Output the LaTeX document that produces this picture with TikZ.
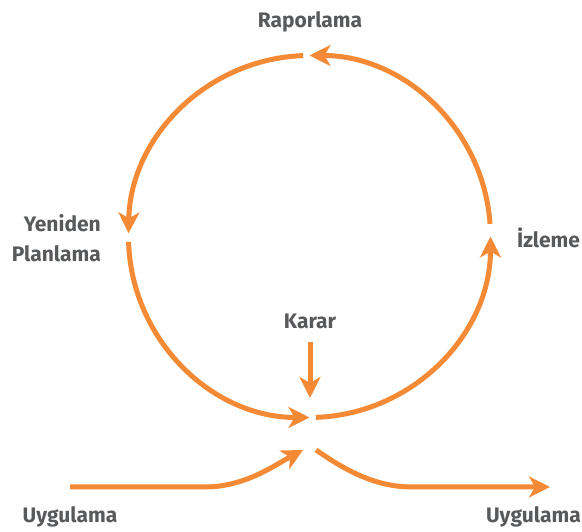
\documentclass[tikz,border=0pt]{standalone}
\usepackage{fontspec}
\setmainfont{Fira Sans}
\usetikzlibrary{arrows.meta}
\definecolor{flowor}{HTML}{F48A36}
\definecolor{txtgray}{HTML}{58595B}
\begin{document}
\begin{tikzpicture}[x=1pt,y=1pt,
  flow/.style={draw=flowor,line width=5pt,-{Stealth[length=21pt,width=21pt,inset=6pt]}},
  lbl/.style={text=txtgray,font=\fontsize{21}{30}\selectfont\bfseries,inner sep=0pt}]
\useasboundingbox (0,0) rectangle (582,532);
\coordinate (c) at (309.5,295.5);
\node[lbl,anchor=base] (rap) at (310,504) {Raporlama};
\node[lbl,align=right,anchor=east] (yen) at (101,294) {Yeniden\\Planlama};
\node[lbl,anchor=base west] (izl) at (517,284) {İzleme};
\node[lbl,anchor=base] (karar) at (310,203) {Karar};
\node[lbl,anchor=base] (uygL) at (70,9) {Uygulama};
\node[lbl,anchor=base east] (uygR) at (581,9) {Uygulama};
% circle arcs
\draw[flow] ([shift={(-88:181pt)}]c) arc[start angle=-88,end angle=0,radius=181pt];
\draw[flow] ([shift={(4:181pt)}]c) arc[start angle=4,end angle=90,radius=181pt];
\draw[flow] ([shift={(92:181pt)}]c) arc[start angle=92,end angle=179,radius=181pt];
\draw[flow] ([shift={(181.7:181pt)}]c) arc[start angle=181.7,end angle=270,radius=181pt];
% Karar arrow
\coordinate (ks) at (310,190);
\coordinate (ke) at (310,134);
\draw[flow] (ks) -- (ke);
% bottom flows
\coordinate (ls) at (70,45);
\coordinate (lb) at (205,45);
\coordinate (lt) at (303,82);
\draw[flow] (ls) -- (lb) .. controls (245,45) and (275,67) .. (lt);
\coordinate (rs) at (316,82);
\coordinate (rb) at (412,45);
\coordinate (rt) at (550,45);
\draw[flow] (rs) .. controls (345,62) and (375,45) .. (rb) -- (rt);
\end{tikzpicture}
\end{document}
